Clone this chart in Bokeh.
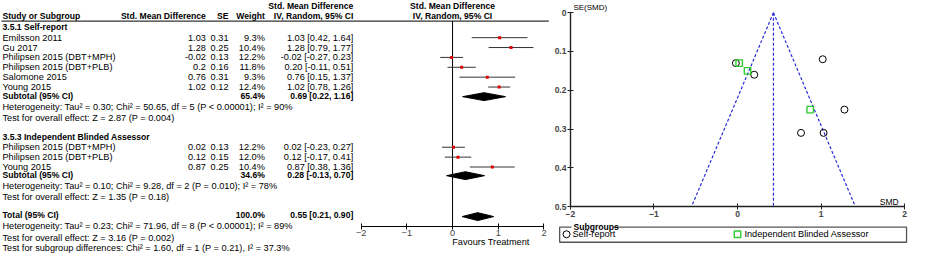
from bokeh.plotting import figure
from bokeh.models import Range1d, LinearAxis, FixedTicker
from bokeh.layouts import row
from bokeh.core.properties import value
from bokeh.embed import file_html
from bokeh.resources import INLINE

# ---------------- data ----------------
sr_title = "3.5.1 Self-report"
sr_studies = ["Emilsson 2011", "Gu 2017", "Philipsen 2015 (DBT+MPH)",
              "Philipsen 2015 (DBT+PLB)", "Salomone 2015", "Young 2015"]
sr_smd = [1.03, 1.28, -0.02, 0.2, 0.76, 1.02]
sr_se = [0.31, 0.25, 0.13, 0.16, 0.31, 0.12]
sr_weight = [9.3, 10.4, 12.2, 11.8, 9.3, 12.4]
sr_lo = [0.42, 0.79, -0.27, -0.11, 0.15, 0.78]
sr_hi = [1.64, 1.77, 0.23, 0.51, 1.37, 1.26]

ib_title = "3.5.3 Independent Blinded Assessor"
ib_studies = ["Philipsen 2015 (DBT+MPH)", "Philipsen 2015 (DBT+PLB)", "Young 2015"]
ib_smd = [0.02, 0.12, 0.87]
ib_se = [0.13, 0.15, 0.25]
ib_weight = [12.2, 12.0, 10.4]
ib_lo = [-0.23, -0.17, 0.38]
ib_hi = [0.27, 0.41, 1.36]

subtotal_est = [0.69, 0.28]
subtotal_lo = [0.22, -0.13]
subtotal_hi = [1.16, 0.70]
subtotal_weight = [65.4, 34.6]
total_est = 0.55
total_lo = 0.21
total_hi = 0.90
total_weight = 100.0

sr_stats = ["Heterogeneity: Tau\u00b2 = 0.30; Chi\u00b2 = 50.65, df = 5 (P < 0.00001); I\u00b2 = 90%",
            "Test for overall effect: Z = 2.87 (P = 0.004)"]
ib_stats = ["Heterogeneity: Tau\u00b2 = 0.10; Chi\u00b2 = 9.28, df = 2 (P = 0.010); I\u00b2 = 78%",
            "Test for overall effect: Z = 1.35 (P = 0.18)"]
total_stats = ["Heterogeneity: Tau\u00b2 = 0.23; Chi\u00b2 = 71.96, df = 8 (P < 0.00001); I\u00b2 = 89%",
               "Test for overall effect: Z = 3.16 (P = 0.002)",
               "Test for subgroup differences: Chi\u00b2 = 1.60, df = 1 (P = 0.21), I\u00b2 = 37.3%"]

forest_ticks = [-2, -1, 0, 1, 2]
funnel_x_ticks = [-2, -1, 0, 1, 2]
funnel_y_ticks = [0, 0.1, 0.2, 0.3, 0.4, 0.5]
funnel_center = 0.43
funnel_se_max = 0.5
legend_labels = ["Self-report", "Independent Blinded Assessor"]

# ---------------- layout ----------------
W, H = 909, 254
SX = W / 925.0
FW = 550
GW = W - FW
FONT = "Liberation Sans"
FS = "9.2px"
FSB = "8.6px"

F0, FU = 460.0, 46.5          # forest: ref px of zero, px per unit
def fx(X):
    return (X - F0) / FU

G0, GU = 750.0, 85.0          # funnel x
GY0, GYU = 13.0, 412.0        # funnel y
def gx(X):
    return (X - G0) / GU
def gy(Y):
    return (Y - GY0) / GYU

def fmt_ci(e, l, h):
    return f"{e:.2f} [{l:.2f}, {h:.2f}]"

def txt(p, xs, ys, texts, align="left", bold=False, size=None, color="black"):
    if size is None:
        size = FSB if bold else FS
    p.text(x=xs, y=ys, text=texts, text_align=align, text_baseline="middle",
           text_font=value(FONT), text_font_size=value(size),
           text_font_style=value("bold" if bold else "normal"), text_color=color)

# ---------------- forest figure ----------------
p = figure(width=FW, height=H, x_range=Range1d(fx(0), fx(FW / SX)),
           y_range=Range1d(270, 0), x_axis_location=None, y_axis_location=None,
           output_backend="svg", toolbar_location=None, min_border=0)
p.grid.visible = False
p.outline_line_color = None

X_LEFT, X_SMD, X_SE, X_W, X_CI = 2, 209, 232, 269, 359
y_hdr1, y_hdr2, y_line = 6, 17, 22
y_g1, y_g2 = 28.5, 145
y_sr = [39.5, 50, 60.5, 71, 81.5, 92]
y_ib = [156, 166.5, 177]
y_sub = [101, 185]
y_sr_stats = [113.5, 125]
y_ib_stats = [197.5, 209]
y_total = 228.5
y_total_stats = [240, 252, 263]
y_axis = 240
DH = 4.2

# header
txt(p, [fx(X_CI)], [y_hdr1], ["Std. Mean Difference"], align="right", bold=True)
txt(p, [fx(X_LEFT)], [y_hdr2], ["Study or Subgroup"], bold=True)
txt(p, [fx(X_SMD), fx(X_SE), fx(X_W), fx(X_CI)], [y_hdr2] * 4,
    ["Std. Mean Difference", "SE", "Weight", "IV, Random, 95% CI"], align="right", bold=True)
txt(p, [fx(F0), fx(F0)], [y_hdr1, y_hdr2], ["Std. Mean Difference", "IV, Random, 95% CI"],
    align="center", bold=True)
p.segment(x0=[fx(1)], y0=[y_line], x1=[fx(558)], y1=[y_line], line_color="#333", line_width=1.2)
p.segment(x0=[0], y0=[y_line], x1=[0], y1=[y_axis], line_color="black", line_width=1)

def study_rows(title, y_title, names, smd, se, w, lo, hi, ys):
    txt(p, [fx(X_LEFT)], [y_title], [title], bold=True)
    txt(p, [fx(X_LEFT)] * len(names), ys, names)
    txt(p, [fx(X_SMD)] * len(names), ys, [f"{v:g}" for v in smd], align="right")
    txt(p, [fx(X_SE)] * len(names), ys, [f"{v:g}" for v in se], align="right")
    txt(p, [fx(X_W)] * len(names), ys, [f"{v:.1f}%" for v in w], align="right")
    txt(p, [fx(X_CI)] * len(names), ys, [fmt_ci(e, l, h) for e, l, h in zip(smd, lo, hi)], align="right")
    p.segment(x0=lo, y0=ys, x1=hi, y1=ys, line_color="#333", line_width=1)
    p.scatter(x=smd, y=ys, marker="square", size=3, fill_color="#e00000", line_color=None)

study_rows(sr_title, y_g1, sr_studies, sr_smd, sr_se, sr_weight, sr_lo, sr_hi, y_sr)
study_rows(ib_title, y_g2, ib_studies, ib_smd, ib_se, ib_weight, ib_lo, ib_hi, y_ib)

def diamond(e, l, h, y, label, wt):
    txt(p, [fx(X_LEFT)], [y], [label], bold=True)
    txt(p, [fx(X_W)], [y], [f"{wt:.1f}%"], align="right", bold=True)
    txt(p, [fx(X_CI)], [y], [fmt_ci(e, l, h)], align="right", bold=True)
    yd = y + 1.2
    p.patch(x=[l, e, h, e], y=[yd, yd - DH, yd, yd + DH], fill_color="black", line_color="black")

for i in range(2):
    diamond(subtotal_est[i], subtotal_lo[i], subtotal_hi[i], y_sub[i], "Subtotal (95% CI)", subtotal_weight[i])
diamond(total_est, total_lo, total_hi, y_total, "Total (95% CI)", total_weight)

txt(p, [fx(X_LEFT)] * 2, y_sr_stats, sr_stats)
txt(p, [fx(X_LEFT)] * 2, y_ib_stats, ib_stats)
txt(p, [fx(X_LEFT)] * 3, y_total_stats, total_stats)

ax = LinearAxis(fixed_location=y_axis, bounds=(-2, 2), ticker=FixedTicker(ticks=forest_ticks))
ax.major_tick_in = 3
ax.major_tick_out = 3
ax.minor_tick_line_color = None
ax.axis_line_color = "black"
ax.major_tick_line_color = "black"
ax.major_label_text_font = FONT
ax.major_label_text_font_size = FS
ax.major_label_standoff = 1
p.add_layout(ax, "below")
txt(p, [fx(499)], [257], ["Favours Treatment"], align="center")

# ---------------- funnel figure ----------------
g = figure(width=GW, height=H, x_range=Range1d(gx(FW / SX), gx(925)),
           y_range=Range1d(gy(270), gy(0)), x_axis_location=None, y_axis_location=None,
           output_backend="svg", toolbar_location=None, min_border=0)
g.grid.visible = False
g.outline_line_color = None

c = funnel_center
half = 1.96 * funnel_se_max
g.multi_line(xs=[[c, c - half], [c, c], [c, c + half]],
             ys=[[0, funnel_se_max], [0, funnel_se_max], [0, funnel_se_max]],
             line_color="#2b2bd9", line_dash="3 2", line_width=1.2)
g.scatter(x=sr_smd, y=sr_se, marker="circle", size=7, fill_color=None, line_color="black", line_width=1)
g.scatter(x=ib_smd, y=ib_se, marker="square", size=6.5, fill_color=None, line_color="#2ecc2e", line_width=1.4)

yax = LinearAxis(fixed_location=-2, bounds=(0, 0.5), ticker=FixedTicker(ticks=funnel_y_ticks))
yax.major_label_overrides = {0: "0"}
xax = LinearAxis(fixed_location=0.5, bounds=(-2, 2), ticker=FixedTicker(ticks=funnel_x_ticks))
for a in (yax, xax):
    a.major_tick_in = 3
    a.major_tick_out = 3
    a.minor_tick_line_color = None
    a.axis_line_color = "#222"
    a.axis_line_width = 1.4
    a.major_tick_line_color = "#222"
    a.major_label_text_font = FONT
    a.major_label_text_font_size = "8.5px"
    a.major_label_text_font_style = "bold"
    a.major_label_standoff = 1
g.add_layout(yax, "left")
g.add_layout(xax, "below")

txt(g, [gx(583)], [gy(7)], ["SE(SMD)"], size="8px")
txt(g, [gx(914)], [gy(214)], ["SMD"], align="right", size="8.5px")

# legend box
L, R, T, B = gx(569), gx(922), gy(241), gy(257)
g.line(x=[gx(624), R, R, L, L, gx(581)], y=[T, T, B, B, T, T], line_color="#555", line_width=1.3)
txt(g, [gx(583)], [T], ["Subgroups"], bold=True)
yl = gy(248.5)
g.scatter(x=[gx(576)], y=[yl], marker="circle", size=7, fill_color=None, line_color="black")
g.scatter(x=[gx(750)], y=[yl], marker="square", size=6.5, fill_color=None, line_color="#2ecc2e", line_width=1.4)
txt(g, [gx(582), gx(757)], [yl, yl], legend_labels)

layout = row(p, g)
open("out.html", "w").write(file_html(layout, INLINE))
